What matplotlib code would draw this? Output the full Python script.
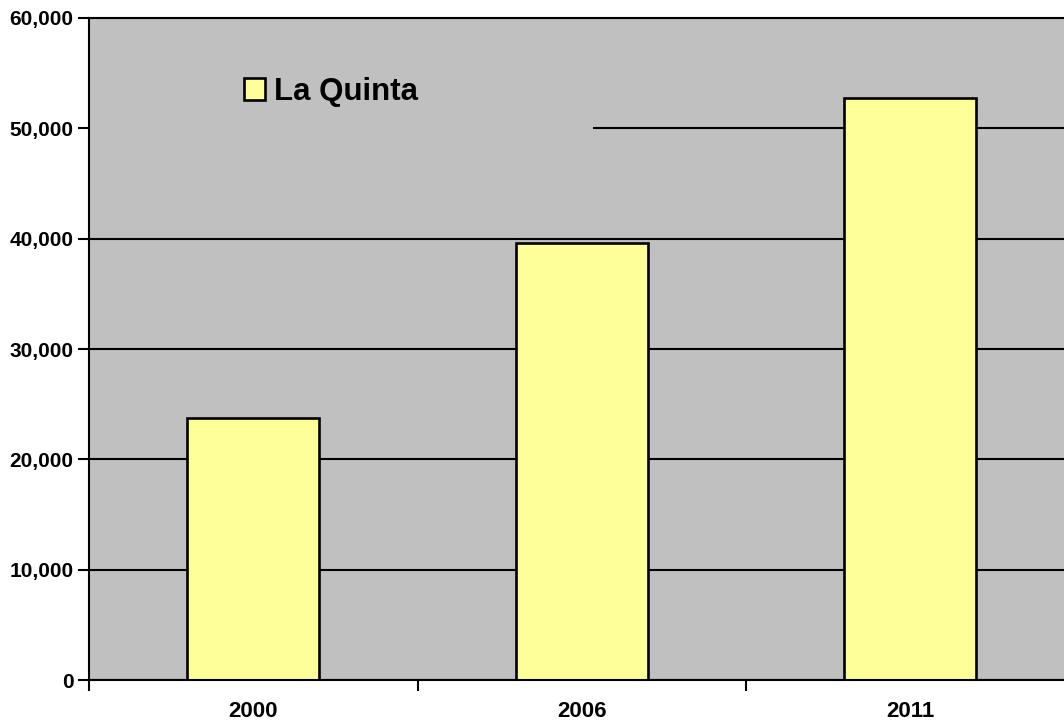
import matplotlib
matplotlib.use("Agg")
import matplotlib.pyplot as plt
from matplotlib.patches import Rectangle
from matplotlib.ticker import FuncFormatter
import numpy as np

years = ["2000", "2006", "2011"]
population = [23750, 39650, 52750]
series_name = "La Quinta"

plt.rcParams['font.family'] = ['Liberation Sans', 'DejaVu Sans']
plt.rcParams['font.weight'] = 'bold'

W, H = 1064, 723
fig = plt.figure(figsize=(W / 100, H / 100), dpi=100)
ax = fig.add_axes([89 / W, (H - 680) / H, 985.5 / W, 662 / H])
ax.set_facecolor('#C0C0C0')

x = np.arange(len(years))
ax.bar(x, population, width=0.403, color='#FFFF99', edgecolor='black',
       linewidth=1.9, zorder=2, label=series_name)

ax.set_xlim(-0.5, len(years) - 0.5)
ax.set_ylim(0, 60000)
ax.set_yticks(np.arange(0, 60001, 10000))
ax.yaxis.set_major_formatter(FuncFormatter(lambda v, p: f"{int(v):,}"))
ax.yaxis.grid(True, color='black', linewidth=1.5)
ax.set_axisbelow(True)

# category labels at centres, tick marks on the boundaries
ax.set_xticks(x)
ax.set_xticklabels(years)
ax.set_xticks(np.arange(-0.5, len(years)), minor=True)
ax.tick_params(axis='x', which='major', length=0, pad=15, labelsize=16)
ax.tick_params(axis='x', which='minor', length=8, width=1.5, color='black')
ax.tick_params(axis='y', length=8, width=1.5, pad=3, labelsize=15)
for lab in ax.get_xticklabels() + ax.get_yticklabels():
    lab.set_fontweight('bold')

for side in ['left', 'bottom', 'top']:
    ax.spines[side].set_linewidth(1.5)
ax.spines['right'].set_visible(False)

# grey box behind the legend hides part of the top gridline
ax.add_patch(Rectangle((0, (680 - 166) / 662), (593 - 89) / 985.5, 0.2,
                       transform=ax.transAxes, facecolor='#C0C0C0',
                       edgecolor='none', zorder=0.8))

leg = ax.legend(loc='center left', bbox_to_anchor=(142 / 985.5, (680 - 92) / 662),
                frameon=False, prop={'size': 22.5, 'weight': 'bold'},
                handlelength=0.7, handleheight=0.7, handletextpad=0.26,
                borderaxespad=0)

fig.savefig("out.png", dpi=100)
